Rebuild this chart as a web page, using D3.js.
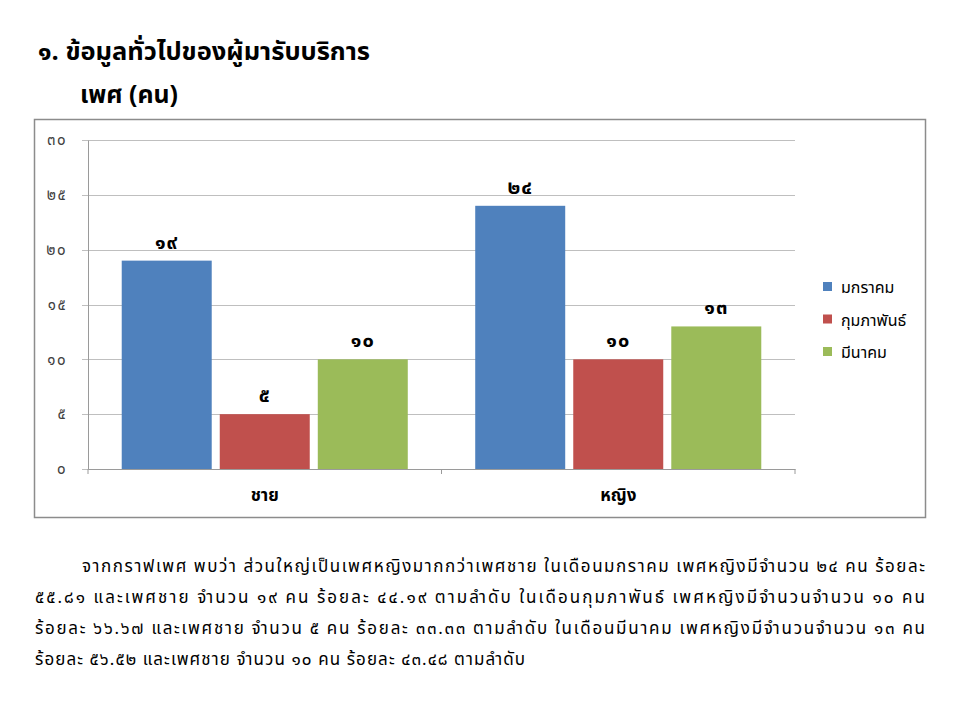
<!DOCTYPE html>
<html>
<head>
<meta charset="utf-8">
<script src="https://cdnjs.cloudflare.com/ajax/libs/d3/7.8.5/d3.min.js"></script>
<style>
  body { margin: 0; background: #fff; }
  text { font-family: "Noto Sans Thai", "Tahoma", "Loma", "Garuda", sans-serif; }
</style>
</head>
<body>
<div id="chart"></div>
<script>
const categories = ["ชาย", "หญิง"];
const months = ["มกราคม", "กุมภาพันธ์", "มีนาคม"];
const janValues = [19, 24];
const febValues = [5, 10];
const marValues = [10, 13];
const yTicks = [0, 5, 10, 15, 20, 25, 30];
const monthColors = ["#4F81BD", "#C0504D", "#9BBB59"];

const title = "๑. ข้อมูลทั่วไปของผู้มารับบริการ";
const subtitle = "เพศ (คน)";
const paragraph = [
  "จากกราฟเพศ พบว่า ส่วนใหญ่เป็นเพศหญิงมากกว่าเพศชาย ในเดือนมกราคม เพศหญิงมีจำนวน ๒๔ คน  ร้อยละ",
  "๕๕.๘๑ และเพศชาย จำนวน ๑๙ คน ร้อยละ ๔๔.๑๙ ตามลำดับ  ในเดือนกุมภาพันธ์ เพศหญิงมีจำนวนจำนวน ๑๐ คน",
  "ร้อยละ ๖๖.๖๗ และเพศชาย จำนวน ๕ คน ร้อยละ ๓๓.๓๓ ตามลำดับ  ในเดือนมีนาคม เพศหญิงมีจำนวนจำนวน ๑๓ คน",
  "ร้อยละ ๕๖.๕๒ และเพศชาย จำนวน ๑๐ คน ร้อยละ ๔๓.๔๘ ตามลำดับ"
];
const paragraphWidths = [843, 890, 890, 490];

const thaiDigits = "๐๑๒๓๔๕๖๗๘๙";
const toThai = n => String(n).replace(/[0-9]/g, d => thaiDigits[+d]);

const width = 960, height = 720;
const svg = d3.select("#chart").append("svg")
  .attr("width", width)
  .attr("height", height);

// หัวเรื่อง
svg.append("text")
  .attr("x", 38).attr("y", 60)
  .style("font-size", "25px").style("font-weight", "bold").attr("fill", "#000")
  .attr("textLength", 332).attr("lengthAdjust", "spacingAndGlyphs")
  .text(title);
svg.append("text")
  .attr("x", 80).attr("y", 103)
  .style("font-size", "25px").style("font-weight", "bold").attr("fill", "#000")
  .attr("textLength", 98).attr("lengthAdjust", "spacingAndGlyphs")
  .text(subtitle);

// กรอบกราฟ
svg.append("rect")
  .attr("x", 34.5).attr("y", 119.5)
  .attr("width", 891).attr("height", 398)
  .attr("fill", "#fff")
  .attr("stroke", "#8c8c8c")
  .attr("stroke-width", 1.5);

const plot = { left: 88, right: 795, top: 140, bottom: 469 };

const y = d3.scaleLinear()
  .domain([0, 30])
  .range([plot.bottom, plot.top]);

const x0 = d3.scaleBand()
  .domain(categories)
  .range([plot.left, plot.right])
  .padding(0);

const x1 = d3.scaleBand()
  .domain(months)
  .range([0, x0.bandwidth()])
  .paddingInner(0.082)
  .paddingOuter(0.344);

const g = svg.append("g");

// เส้นตาราง
g.append("g")
  .selectAll("line")
  .data(yTicks)
  .enter()
  .append("line")
  .attr("x1", plot.left - 6)
  .attr("x2", plot.right)
  .attr("y1", d => Math.round(y(d)) + 0.5)
  .attr("y2", d => Math.round(y(d)) + 0.5)
  .attr("stroke", "#bfbfbf")
  .attr("stroke-width", 1);

// แกน Y
const yAxis = g.append("g")
  .attr("transform", `translate(${plot.left},0)`)
  .call(d3.axisLeft(y).tickValues(yTicks).tickSize(0).tickPadding(21).tickFormat(toThai));
yAxis.select(".domain").attr("stroke", "#9a9a9a");
yAxis.selectAll("text")
  .style("font-size", "15px")
  .style("letter-spacing", "1.5px")
  .attr("fill", "#404040");

// แกน X
const xAxis = g.append("g")
  .attr("transform", `translate(0,${plot.bottom})`)
  .call(d3.axisBottom(x0).tickSize(0).tickPadding(20));
xAxis.select(".domain").attr("stroke", "#9a9a9a");
xAxis.selectAll("text")
  .style("font-size", "17px")
  .style("font-weight", "bold")
  .attr("fill", "#000");

// ขีดแบ่งกลุ่ม
g.append("g")
  .selectAll("line")
  .data([...categories.map(c => x0(c)), plot.right])
  .enter()
  .append("line")
  .attr("x1", d => d).attr("x2", d => d)
  .attr("y1", plot.bottom).attr("y2", plot.bottom + 5)
  .attr("stroke", "#9a9a9a");

// แท่ง
const series = [janValues, febValues, marValues];
const rows = [];
categories.forEach((c, ci) => {
  months.forEach((m, mi) => {
    rows.push({ cat: c, month: m, value: series[mi][ci], color: monthColors[mi] });
  });
});

g.append("g")
  .selectAll("rect")
  .data(rows)
  .enter()
  .append("rect")
  .attr("x", d => x0(d.cat) + x1(d.month))
  .attr("y", d => y(d.value))
  .attr("width", x1.bandwidth())
  .attr("height", d => y(0) - y(d.value))
  .attr("fill", d => d.color);

g.append("g")
  .selectAll("text")
  .data(rows)
  .enter()
  .append("text")
  .attr("x", d => x0(d.cat) + x1(d.month) + x1.bandwidth() / 2)
  .attr("y", d => y(d.value) - 12)
  .attr("text-anchor", "middle")
  .style("font-size", "20px")
  .style("font-weight", "bold")
  .style("letter-spacing", "1px")
  .attr("fill", "#000")
  .text(d => toThai(d.value));

// คำอธิบาย
const legend = svg.append("g")
  .attr("transform", "translate(823,287)");
months.forEach((m, i) => {
  const row = legend.append("g").attr("transform", `translate(0,${i * 32.5})`);
  row.append("rect")
    .attr("x", 0).attr("y", -5)
    .attr("width", 9).attr("height", 9)
    .attr("fill", monthColors[i]);
  row.append("text")
    .attr("x", 18).attr("y", 6)
    .style("font-size", "16px")
    .attr("fill", "#000")
    .text(m);
});

// ย่อหน้า
paragraph.forEach((line, i) => {
  svg.append("text")
    .attr("x", i === 0 ? 82 : 35)
    .attr("y", 572 + i * 31)
    .style("font-size", "17px")
    .attr("fill", "#000")
    .attr("textLength", paragraphWidths[i])
    .attr("lengthAdjust", "spacing")
    .text(line);
});
</script>
</body>
</html>
